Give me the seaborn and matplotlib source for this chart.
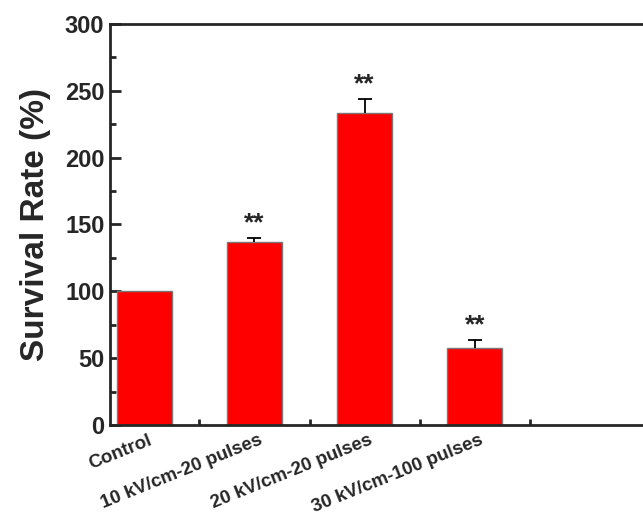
import matplotlib
matplotlib.use("Agg")
import matplotlib.pyplot as plt
import matplotlib.transforms as mtransforms
import numpy as np
import seaborn as sns
from matplotlib.ticker import MultipleLocator, AutoMinorLocator, FixedLocator

# survival rate of cells after pulse treatment
groups = ["Control", "10 kV/cm-20 pulses", "20 kV/cm-20 pulses", "30 kV/cm-100 pulses"]
rate = [100, 137, 233.5, 57.5]
err = [0, 2.5, 10, 6]
marks = ["", "**", "**", "**"]

sns.set_style("ticks")
plt.rcParams['font.family'] = ['Liberation Sans', 'DejaVu Sans']
plt.rcParams['font.weight'] = 'bold'

fig = plt.figure(figsize=(6.43, 5.17), dpi=100)
ax = fig.add_axes([0.171, 0.178, 0.835, 0.776])

sns.barplot(x=groups, y=rate, color='#ff0000', saturation=1, width=0.5,
            edgecolor='#777777', linewidth=1, ax=ax)
pos = np.arange(len(groups))
_, caps, _ = ax.errorbar(pos[1:], rate[1:], yerr=[np.zeros(3), err[1:]], fmt='none',
                         ecolor='black', elinewidth=1.3, capsize=5, capthick=1.3)
caps[0].set_visible(False)  # only the upper cap
for i in range(1, len(groups)):
    ax.text(pos[i], rate[i] + err[i] + 2, marks[i], ha='center', va='bottom',
            fontsize=19, fontweight='bold')

ax.set_xlim(-0.31, 4.56)
ax.set_ylim(0, 300)
ax.yaxis.set_major_locator(MultipleLocator(50))
ax.yaxis.set_minor_locator(AutoMinorLocator(2))
ax.xaxis.set_minor_locator(FixedLocator([0.5, 1.5, 2.5, 3.5]))
ax.tick_params(which='both', direction='in', width=2, top=False, right=False)
ax.tick_params(which='major', length=8)
ax.tick_params(which='minor', length=4)
ax.tick_params(axis='y', labelsize=17, pad=4)
ax.tick_params(axis='x', pad=5)
ax.set_xticks(pos)
ax.set_xticklabels(groups, rotation=22, ha='right', rotation_mode='anchor',
                   fontsize=13.5, fontweight='bold')
shift = mtransforms.ScaledTranslation(3 / 72, 0, fig.dpi_scale_trans)
for lab in ax.get_xticklabels():
    lab.set_transform(lab.get_transform() + shift)
for lab in ax.get_yticklabels():
    lab.set_fontweight('bold')
for s in ax.spines.values():
    s.set_linewidth(2)
ax.set_ylabel("Survival Rate (%)", fontsize=24, fontweight='bold', labelpad=10)
ax.set_xlabel("")

fig.savefig("out.png", dpi=100)
